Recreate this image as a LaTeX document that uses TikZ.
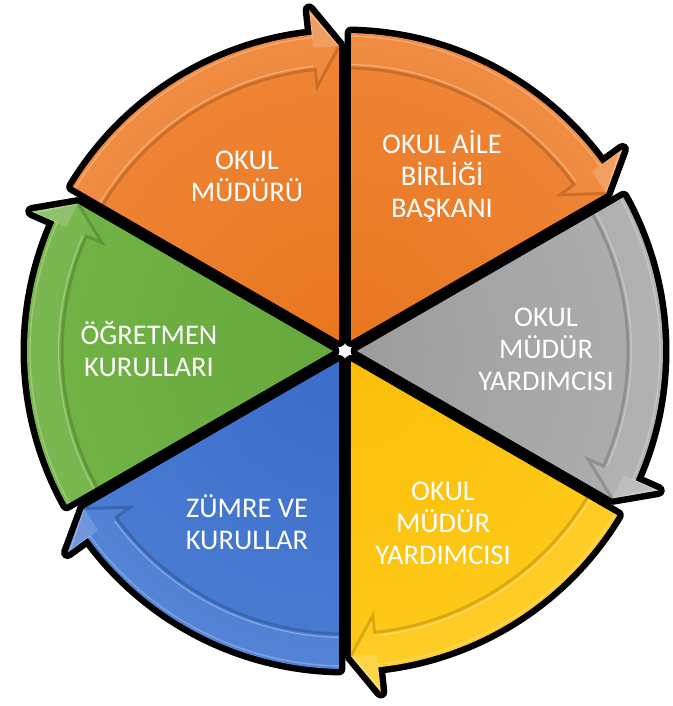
\documentclass[tikz,border=0pt]{standalone}
\usepackage{fontspec}
\setmainfont{Carlito}
\definecolor{orgA}{HTML}{E8761E}
\definecolor{orgB}{HTML}{F69550}
\definecolor{gryA}{HTML}{9C9C9C}
\definecolor{gryB}{HTML}{C0C0C0}
\definecolor{ylwA}{HTML}{FBBE08}
\definecolor{ylwB}{HTML}{FFD52A}
\definecolor{bluA}{HTML}{3A6CC8}
\definecolor{bluB}{HTML}{5A8DE0}
\definecolor{grnA}{HTML}{66A83C}
\definecolor{grnB}{HTML}{7EBF50}
\tikzset{
  lbl/.style={text=white, align=center, font=\fontsize{28.5}{32}\selectfont, inner sep=0pt},
  outline/.style={fill=black, draw=black, line width=13pt, line join=round},
}
\begin{document}
\begin{tikzpicture}[x=1pt,y=1pt]
\useasboundingbox (-345,-355) rectangle (327,351);
% black outlines (gaps and rim)
\foreach \s in {150,90,30,-30,-90,-150}{
  \path[outline] ({\s-30}:12) -- ({\s-1.1}:318)
    arc[start angle={\s-1.1}, end angle={\s-54}, radius=318]
    -- ({\s-54}:343) -- ({\s-58.9}:305) -- cycle;
}
% coloured pieces
\foreach \s/\ca/\cb in {150/orgA/orgB, 90/orgA/orgB, 30/gryA/gryB, -30/ylwA/ylwB, -90/bluA/bluB, -150/grnA/grnB}{
  \begin{scope}
    \clip ({\s-30}:12) -- ({\s-1.1}:318)
      arc[start angle={\s-1.1}, end angle={\s-54}, radius=318]
      -- ({\s-54}:343) -- ({\s-58.9}:305) -- cycle;
    \shade[inner color=\ca, outer color=\cb] (0,0) circle (640);
    % band face
    \fill[white, opacity=0.06] ({\s-1.1}:318)
      arc[start angle={\s-1.1}, end angle={\s-54}, radius=318]
      -- ({\s-54}:343) -- ({\s-58.9}:305) -- ({\s-54}:268)
      -- ({\s-54}:284) arc[start angle={\s-54}, end angle={\s-1.2}, radius=284] -- cycle;
    % head upper facet
    \fill[white, opacity=0.16] ({\s-54}:343) -- ({\s-58.9}:305) -- ({\s-54}:305) -- cycle;
    % band shadow and highlight
    \draw[\ca!70!black, line width=3pt, opacity=0.45]
      ({\s-1.2}:283) arc[start angle={\s-1.2}, end angle={\s-54}, radius=283]
      -- ({\s-54}:266) -- ({\s-58.9}:305);
    \draw[white, line width=1.2pt, opacity=0.30]
      ({\s-1.2}:286.5) arc[start angle={\s-1.2}, end angle={\s-53.6}, radius=286.5];
    \draw[white, line width=1.5pt, opacity=0.25]
      ({\s-1.1}:315) arc[start angle={\s-1.1}, end angle={\s-54}, radius=315]
      -- ({\s-54}:340) -- ({\s-58.9}:305);
  \end{scope}
}
\fill[white] (0,0) circle (5.5);
% labels
\node[lbl] (t1) at (-98,175) {OKUL\\MÜDÜRÜ};
\node[lbl] (t2) at (97,175) {OKUL AİLE\\BİRLİĞİ\\BAŞKANI};
\node[lbl] (t3) at (201,2) {OKUL\\MÜDÜR\\YARDIMCISI};
\node[lbl] (t4) at (98,-172) {OKUL\\MÜDÜR\\YARDIMCISI};
\node[lbl] (t5) at (-98,-171) {ZÜMRE VE\\KURULLAR};
\node[lbl] (t6) at (-196,2) {ÖĞRETMEN\\KURULLARI};
\end{tikzpicture}
\end{document}
